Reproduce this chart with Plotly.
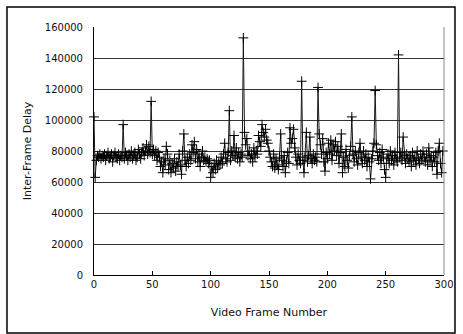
import plotly.graph_objects as go

frames = list(range(300))
delays = [
    102000, 63000, 74000, 77000, 76000, 78000, 75000, 77000, 76000, 78000,
    74000, 77000, 79000, 75000, 76000, 78000, 73000, 77000, 79000, 76000,
    75000, 78000, 74000, 77000, 76000, 97000, 75000, 79000, 77000, 74000,
    78000, 76000, 80000, 75000, 77000, 79000, 74000, 76000, 81000, 78000,
    75000, 79000, 82000, 77000, 80000, 84000, 78000, 83000, 79000, 112000,
    78000, 81000, 77000, 80000, 74000, 79000, 76000, 70000, 73000, 66000,
    75000, 71000, 83000, 78000, 68000, 74000, 66000, 72000, 69000, 75000,
    67000, 73000, 70000, 78000, 71000, 65000, 80000, 91000, 74000, 70000,
    76000, 72000, 78000, 74000, 84000, 79000, 86000, 75000, 81000, 73000,
    78000, 70000, 76000, 80000, 74000, 76000, 73000, 75000, 72000, 74000,
    63000, 70000, 66000, 72000, 68000, 74000, 69000, 73000, 71000, 76000,
    72000, 78000, 85000, 75000, 73000, 79000, 106000, 74000, 80000, 77000,
    90000, 76000, 82000, 75000, 79000, 73000, 78000, 76000, 153000, 92000,
    84000, 88000, 77000, 80000, 75000, 78000, 73000, 82000, 76000, 80000,
    78000, 90000, 86000, 83000, 97000, 92000, 89000, 94000, 87000, 85000,
    80000, 76000, 73000, 70000, 78000, 69000, 75000, 71000, 68000, 76000,
    91000, 74000, 70000, 77000, 66000, 73000, 79000, 72000, 95000, 85000,
    88000, 94000, 82000, 76000, 71000, 78000, 74000, 72000, 125000, 74000,
    66000, 76000, 92000, 73000, 77000, 89000, 75000, 72000, 78000, 74000,
    76000, 73000, 121000, 91000, 84000, 78000, 88000, 73000, 67000, 79000,
    75000, 85000, 78000, 87000, 74000, 84000, 80000, 86000, 77000, 83000,
    72000, 79000, 91000, 66000, 76000, 70000, 81000, 74000, 69000, 77000,
    83000, 102000, 78000, 73000, 80000, 75000, 71000, 79000, 85000, 76000,
    72000, 80000, 74000, 78000, 70000, 76000, 73000, 62000, 75000, 80000,
    85000, 119000, 84000, 77000, 74000, 79000, 72000, 81000, 76000, 68000,
    63000, 75000, 78000, 72000, 80000, 74000, 77000, 71000, 79000, 75000,
    73000, 142000, 76000, 79000, 74000, 89000, 77000, 72000, 78000, 75000,
    73000, 77000, 70000, 79000, 74000, 76000, 71000, 80000, 75000, 72000,
    78000, 74000, 80000, 76000, 73000, 78000, 71000, 82000, 74000, 77000,
    70000, 76000, 73000, 79000, 65000, 80000, 85000, 72000, 66000, 80000,
]

x_ticks = [0, 50, 100, 150, 200, 250, 300]
y_ticks = [0, 20000, 40000, 60000, 80000, 100000, 120000, 140000, 160000]
x_title = "Video Frame Number"
y_title = "Inter-Frame Delay"

fig = go.Figure()
fig.add_trace(go.Scatter(
    x=frames, y=delays, mode="lines+markers",
    line=dict(color="#1a1a1a", width=1),
    marker=dict(symbol="cross-thin", size=7, line=dict(color="black", width=1)),
    showlegend=False, cliponaxis=False,
))

font = dict(family="DejaVu Sans", size=10, color="#111111")
title_font = dict(family="DejaVu Sans", size=11, color="#111111")
fig.update_layout(
    width=463, height=334,
    margin=dict(l=94, r=19, t=27, b=59, autoexpand=False),
    paper_bgcolor="white", plot_bgcolor="white",
    font=font,
    xaxis=dict(
        range=[0, 300], tickvals=x_ticks, ticktext=[str(v) for v in x_ticks],
        showgrid=False, zeroline=False, showline=True, linecolor="black", linewidth=1,
        ticks="inside", ticklen=4, tickcolor="black", automargin=False,
        title=dict(text=x_title, standoff=19, font=title_font),
    ),
    yaxis=dict(
        range=[0, 160000], tickvals=y_ticks, ticktext=[str(v) for v in y_ticks],
        showgrid=True, gridcolor="#333333", gridwidth=1,
        zeroline=False, showline=True, linecolor="black", linewidth=1,
        ticks="", ticklabelstandoff=8, automargin=False,
        title=dict(text=y_title, standoff=10, font=title_font),
    ),
    shapes=[
        dict(type="line", xref="paper", yref="paper", x0=1, x1=1, y0=0, y1=1,
             line=dict(color="#888888", width=1)),
        dict(type="rect", xref="paper", yref="paper",
             x0=-0.2486, x1=1.0314, y0=-0.2339, y1=1.0806,
             line=dict(color="black", width=1.5), fillcolor="rgba(0,0,0,0)"),
    ],
)

fig.write_html(
    "out.html",
    config={"displayModeBar": False},
    post_script="document.body.style.margin='0';document.body.style.overflow='hidden';",
)
